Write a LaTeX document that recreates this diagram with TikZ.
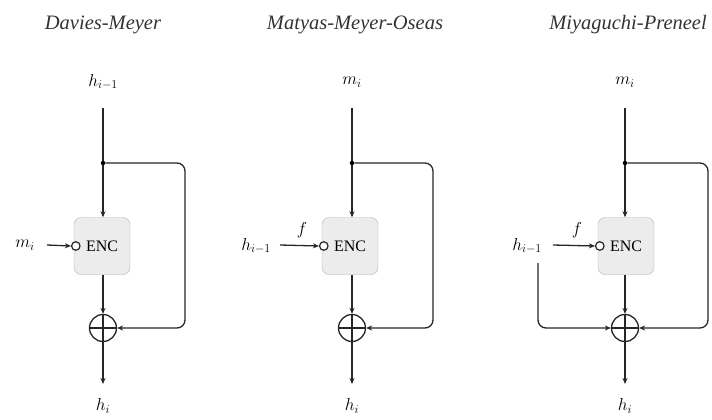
\documentclass[tikz,border=0pt]{standalone}
\usepackage{fontspec}
\setmainfont{Liberation Serif}
\usetikzlibrary{arrows.meta,calc}
\tikzset{
 wire/.style={line width=1.3pt, draw=black!85},
 arr/.style={wire, -{Stealth[length=6pt,width=5pt]}},
 enc/.style={draw=gray!60, fill=gray!15, rounded corners=7pt, minimum width=56pt, minimum height=57pt, inner sep=0pt, font=\fontsize{16}{16}\selectfont},
 xor/.style={circle, draw=black!85, line width=1.3pt, minimum size=27pt, inner sep=0pt,
   path picture={\draw[line width=1.3pt, black!85] (path picture bounding box.north) -- (path picture bounding box.south)
     (path picture bounding box.west) -- (path picture bounding box.east);}},
 ttl/.style={font=\itshape\fontsize{20.5}{20.5}\selectfont, text=black!80},
 lbl/.style={font=\fontsize{17}{17}\selectfont},
 neg/.style={circle, draw=black!85, line width=1.2pt, fill=white, minimum size=8.5pt, inner sep=0pt},
 jdot/.style={circle, fill=black, minimum size=4.5pt, inner sep=0pt},
}
\begin{document}
\begin{tikzpicture}[x=1pt,y=-1pt]
\useasboundingbox (0,0) rectangle (712,420);
% ---------- Davies-Meyer ----------
\node[ttl] (t1) at (103,25) {Davies-Meyer};
\node[lbl] (in1) at (103,82) {$h_{i-1}$};
\coordinate (s1) at (103,108);
\node[jdot] (d1) at (103,163) {};
\node[enc] (e1) at (102,246) {ENC};
\node[xor] (x1) at (103,328) {};
\node[lbl] (o1) at (103,406) {$h_i$};
\coordinate (oe1) at (103,384);
\node[lbl] (k1) at (25,245) {$m_i$};
\node[neg] (n1) at ($(e1.west)+(2,0)$) {};
\coordinate (ka1) at (47,245);
\draw[wire] (s1) -- (d1);
\draw[arr] (d1) -- (e1.north -| d1);
\draw[arr] (e1.south -| x1) -- (x1.north);
\draw[arr] (x1.south) -- (oe1);
\draw[arr,rounded corners=8pt] (d1) -- (185,163) -- (185,328) -- (x1.east);
\draw[arr] (ka1) -- (n1.west);
% ---------- Matyas-Meyer-Oseas ----------
\node[ttl] (t2) at (355,25) {Matyas-Meyer-Oseas};
\node[lbl] (in2) at (352,82) {$m_i$};
\coordinate (s2) at (352,108);
\node[jdot] (d2) at (352,163) {};
\node[enc] (e2) at (350,246) {ENC};
\node[xor] (x2) at (352,328) {};
\node[lbl] (o2) at (352,406) {$h_i$};
\coordinate (oe2) at (352,384);
\node[lbl] (k2) at (256,246) {$h_{i-1}$};
\node[neg] (n2) at ($(e2.west)+(2,0)$) {};
\coordinate (ka2) at (280,245);
\node[lbl] (f2) at (302,230) {$f$};
\draw[wire] (s2) -- (d2);
\draw[arr] (d2) -- (e2.north -| d2);
\draw[arr] (e2.south -| x2) -- (x2.north);
\draw[arr] (x2.south) -- (oe2);
\draw[arr,rounded corners=8pt] (d2) -- (433,163) -- (433,328) -- (x2.east);
\draw[arr] (ka2) -- (n2.west);
% ---------- Miyaguchi-Preneel ----------
\node[ttl] (t3) at (628,25) {Miyaguchi-Preneel};
\node[lbl] (in3) at (625,82) {$m_i$};
\coordinate (s3) at (625,108);
\node[jdot] (d3) at (625,163) {};
\node[enc] (e3) at (626,246) {ENC};
\node[xor] (x3) at (625,328) {};
\node[lbl] (o3) at (625,406) {$h_i$};
\coordinate (oe3) at (625,384);
\node[lbl] (k3) at (527,246) {$h_{i-1}$};
\node[neg] (n3) at ($(e3.west)+(2,0)$) {};
\coordinate (ka3) at (553,245);
\coordinate (kb3) at (538,263);
\node[lbl] (f3) at (577,230) {$f$};
\draw[wire] (s3) -- (d3);
\draw[arr] (d3) -- (e3.north -| d3);
\draw[arr] (e3.south -| x3) -- (x3.north);
\draw[arr] (x3.south) -- (oe3);
\draw[arr,rounded corners=8pt] (d3) -- (708,163) -- (708,328) -- (x3.east);
\draw[arr] (ka3) -- (n3.west);
\draw[arr,rounded corners=8pt] (kb3) -- (538,328) -- (x3.west);
\end{tikzpicture}
\end{document}
